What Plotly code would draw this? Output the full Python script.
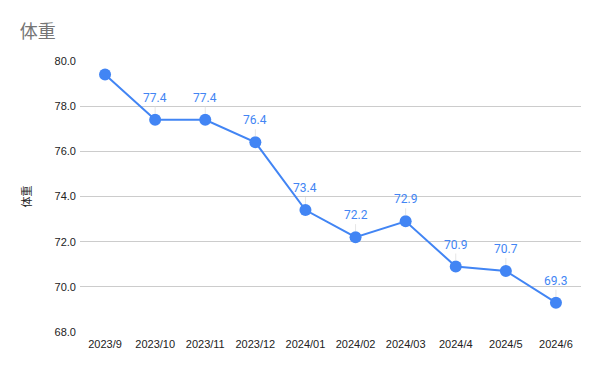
import plotly.graph_objects as go

months = ["2023/9", "2023/10", "2023/11", "2023/12", "2024/01", "2024/02",
          "2024/03", "2024/4", "2024/5", "2024/6"]
weights = [79.4, 77.4, 77.4, 76.4, 73.4, 72.2, 72.9, 70.9, 70.7, 69.3]
show_label = [False, True, True, True, True, True, True, True, True, True]
y_ticks = [68, 70, 72, 74, 76, 78, 80]

blue = "#4285F4"
font_main = "Liberation Sans, Arial, sans-serif"
font_label = "Roboto, Arial, sans-serif"

fig = go.Figure()
fig.add_trace(go.Scatter(
    x=months, y=weights, mode="lines+markers",
    line=dict(color=blue, width=2),
    marker=dict(color=blue, size=12),
    hoverinfo="x+y", showlegend=False, cliponaxis=False,
))

for m, w, s in zip(months, weights, show_label):
    if s:
        fig.add_annotation(
            x=m, y=w, xref="x", yref="y", text=f"{w:.1f}",
            showarrow=True, arrowhead=0, arrowwidth=1, arrowcolor="#e6e6e6",
            ax=0, ay=-13, standoff=6, startstandoff=0,
            font=dict(family=font_label, size=12, color=blue),
            yanchor="bottom",
        )

fig.update_layout(
    width=600, height=371,
    margin=dict(l=80, r=19, t=61, b=39),
    paper_bgcolor="white", plot_bgcolor="white",
    title=dict(text="体重", x=0.033, xanchor="left", y=0.915, yanchor="middle",
               font=dict(family="Noto Sans CJK JP, sans-serif", size=18, color="#757575")),
    font=dict(family=font_main, size=11, color="#222222"),
    xaxis=dict(range=[-0.5, len(months) - 0.5],
               showgrid=False, showline=False, zeroline=False, automargin=False,
               tickfont=dict(size=11, color="#222222"), ticks="", ticklabelstandoff=4),
    yaxis=dict(range=[68, 80], tickvals=y_ticks, automargin=False,
               ticktext=[f"{v:.1f}" for v in y_ticks],
               showgrid=True, gridcolor="#cccccc", gridwidth=1,
               zeroline=False, showline=False, ticks="", ticklabelstandoff=3,
               tickfont=dict(size=11, color="#222222"),
               title=dict(text="体重", standoff=20,
                          font=dict(family="Noto Sans CJK JP, sans-serif", size=11, color="#222222"))),
)

fig.write_html("out.html", config={"displayModeBar": False},
               post_script="document.body.style.margin='0';document.body.style.overflow='hidden';")
